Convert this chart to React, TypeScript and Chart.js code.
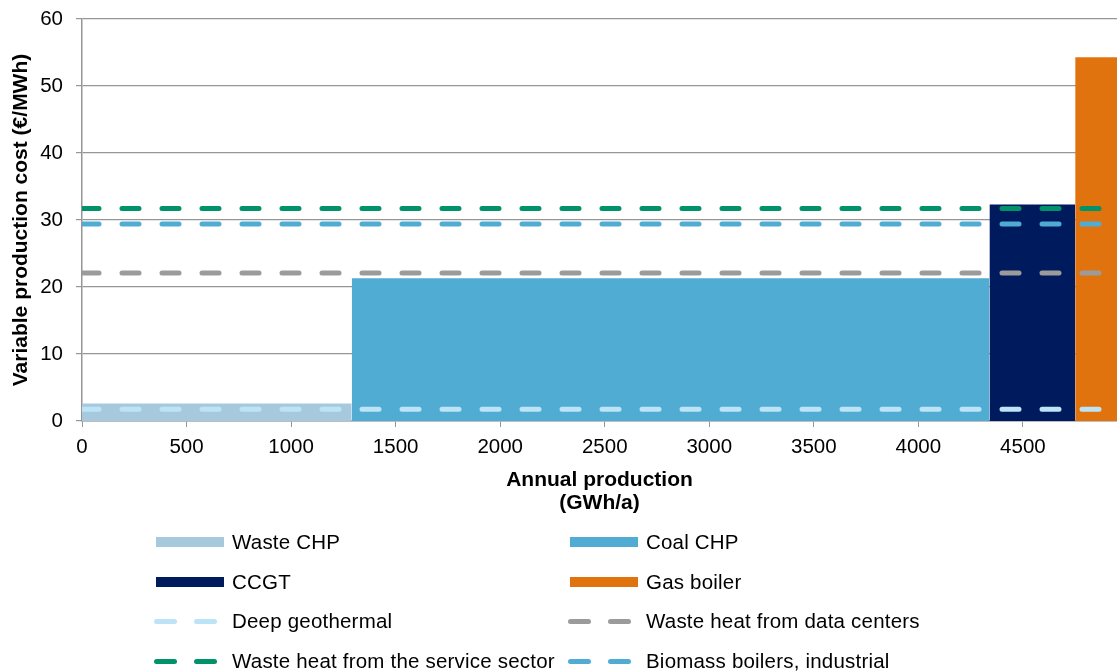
import React, { useEffect, useRef } from "react";
import { Chart, registerables } from "chart.js";

Chart.register(...registerables);

// ---- Data ----
const X_MIN = 0;
const X_MAX = 4950;
const Y_MIN = 0;
const Y_MAX = 60;
const xTickValues = [0, 500, 1000, 1500, 2000, 2500, 3000, 3500, 4000, 4500];
const yTickValues = [0, 10, 20, 30, 40, 50, 60];

const blockNames = ["Waste CHP", "Coal CHP", "CCGT", "Gas boiler"];
const blockStarts = [0, 1290, 4340, 4750];
const blockEnds = [1290, 4340, 4750, 4950];
const blockCosts = [2.6, 21.3, 32.3, 54.3];
const blockColors = ["#A6C9DD", "#51ACD4", "#001A5E", "#E1730E"];

const lineNames = [
  "Deep geothermal",
  "Waste heat from data centers",
  "Waste heat from the service sector",
  "Biomass boilers, industrial",
];
const lineCosts = [1.75, 22.1, 31.7, 29.4];
const lineColors = ["#BDE3F7", "#9B9B9B", "#00936A", "#51ACD4"];

const xTitle = ["Annual production", "(GWh/a)"];
const yTitle = "Variable production cost (€/MWh)";

// legend order (rows of two)
const legendOrder: { kind: "block" | "line"; idx: number }[] = [
  { kind: "block", idx: 0 },
  { kind: "block", idx: 1 },
  { kind: "block", idx: 2 },
  { kind: "block", idx: 3 },
  { kind: "line", idx: 0 },
  { kind: "line", idx: 1 },
  { kind: "line", idx: 2 },
  { kind: "line", idx: 3 },
];

const FONT = "Arial, 'Liberation Sans', Helvetica, sans-serif";
const GRID = "#969696";

export default function App() {
  const canvasRef = useRef<HTMLCanvasElement | null>(null);

  useEffect(() => {
    if (!canvasRef.current) return;
    const lineSets = lineNames.map((name, i) => ({
      label: name,
      type: "line" as const,
      data: [
        { x: X_MIN, y: lineCosts[i] },
        { x: X_MAX, y: lineCosts[i] },
      ],
      borderColor: lineColors[i],
      borderWidth: 5,
      borderDash: [17, 23],
      borderCapStyle: "round" as const,
      pointRadius: 0,
      fill: false,
      order: 0,
    }));
    const blockSets = blockNames.map((name, i) => ({
      label: name,
      type: "line" as const,
      data: [
        { x: blockStarts[i], y: blockCosts[i] },
        { x: blockEnds[i], y: blockCosts[i] },
      ],
      borderColor: blockColors[i],
      backgroundColor: blockColors[i],
      borderWidth: 0,
      pointRadius: 0,
      fill: "origin",
      order: 1,
    }));

    const chart = new Chart(canvasRef.current, {
      type: "line",
      data: { datasets: [...lineSets, ...blockSets] as any },
      options: {
        responsive: false,
        animation: false,
        devicePixelRatio: 1,
        layout: { padding: { left: 0, right: 0, top: 19, bottom: 157 } },
        plugins: {
          legend: { display: false },
          tooltip: { enabled: false },
        },
        scales: {
          x: {
            type: "linear",
            min: X_MIN,
            max: X_MAX,
            afterBuildTicks: (s: any) => {
              s.ticks = xTickValues.map((v) => ({ value: v }));
            },
            afterFit: (s: any) => {
              s.height = 94;
              s.paddingLeft = 0;
              s.paddingRight = 0;
            },
            ticks: {
              maxRotation: 0,
              autoSkip: false,
              padding: 8,
              color: "#000",
              font: { family: FONT, size: 20.5 },
              callback: (v: any) => String(v),
            },
            grid: {
              drawOnChartArea: false,
              drawTicks: true,
              tickLength: 6,
              color: GRID,
            },
            border: { color: GRID, width: 1.5 },
            title: {
              display: true,
              text: xTitle,
              color: "#000",
              font: { family: FONT, size: 21, weight: "bold", lineHeight: 23 / 21 },
              padding: { top: 0, bottom: 0 },
            },
          },
          y: {
            min: Y_MIN,
            max: Y_MAX,
            afterBuildTicks: (s: any) => {
              s.ticks = yTickValues.map((v) => ({ value: v }));
            },
            afterFit: (s: any) => {
              s.width = 82;
              s.paddingTop = 0;
              s.paddingBottom = 0;
            },
            ticks: {
              padding: 13,
              color: "#000",
              font: { family: FONT, size: 20.5 },
              callback: (v: any) => String(v),
            },
            grid: {
              color: GRID,
              tickLength: 6,
              lineWidth: 1.2,
            },
            border: { color: GRID, width: 1.5 },
            title: {
              display: true,
              text: yTitle,
              color: "#000",
              font: { family: FONT, size: 21, weight: "bold" },
              padding: { top: 9, bottom: 0 },
            },
          },
        },
      },
    });
    return () => chart.destroy();
  }, []);

  const swatch = (kind: "block" | "line", idx: number) => {
    if (kind === "block") {
      return (
        <div
          style={{
            width: 68,
            height: 10,
            background: blockColors[idx],
            flex: "none",
          }}
        />
      );
    }
    const dash = {
      width: 23,
      height: 5,
      borderRadius: 2.5,
      background: lineColors[idx],
    };
    return (
      <div style={{ width: 63, display: "flex", gap: 17, marginLeft: -2, marginRight: 7, flex: "none" }}>
        <div style={dash} />
        <div style={dash} />
      </div>
    );
  };

  return (
    <div
      style={{
        position: "absolute",
        left: 0,
        top: 0,
        width: 1117,
        height: 672,
        background: "#fff",
        overflow: "hidden",
      }}
    >
      <canvas ref={canvasRef} width={1117} height={672} style={{ display: "block" }} />
      {legendOrder.map((item, k) => {
        const col = k % 2;
        const row = Math.floor(k / 2);
        const name = item.kind === "block" ? blockNames[item.idx] : lineNames[item.idx];
        return (
          <div
            key={k}
            style={{
              position: "absolute",
              left: col === 0 ? 156 : 570,
              top: 542 + row * 39.7 - 13,
              height: 26,
              display: "flex",
              alignItems: "center",
              fontFamily: FONT,
              fontSize: 20.5,
              letterSpacing: 0.2,
              color: "#000",
              whiteSpace: "nowrap",
            }}
          >
            {swatch(item.kind, item.idx)}
            <span style={{ marginLeft: 8 }}>{name}</span>
          </div>
        );
      })}
    </div>
  );
}
